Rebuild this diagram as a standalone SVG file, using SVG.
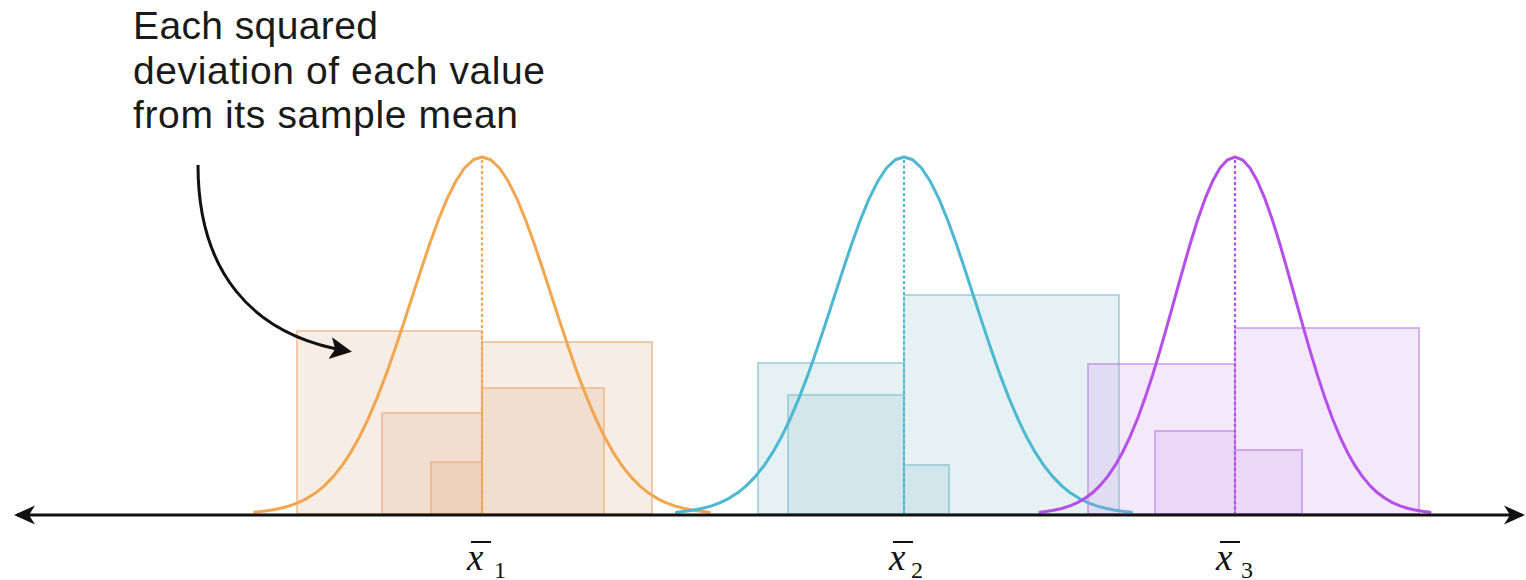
<svg xmlns="http://www.w3.org/2000/svg" width="1526" height="580" viewBox="0 0 1526 580">
<defs>
<style>
.lbl{font-family:"Liberation Sans",Arial,sans-serif;font-size:39px;fill:#1a1a1a}
.mx{font-family:"Liberation Serif","Times New Roman",serif;font-style:italic;font-size:37px;fill:#111}
.sub{font-family:"Liberation Serif","Times New Roman",serif;font-size:24px;fill:#111}
.sqo{fill:rgb(222,165,118);fill-opacity:0.2;stroke:rgb(232,165,110);stroke-opacity:0.55;stroke-width:2}
.sqb{fill:rgb(150,195,210);fill-opacity:0.24;stroke:rgb(120,185,200);stroke-opacity:0.55;stroke-width:2}
.sqp{fill:rgb(200,145,235);fill-opacity:0.2;stroke:rgb(190,130,232);stroke-opacity:0.6;stroke-width:2}
.curve{fill:none;stroke-width:3;stroke-linejoin:round;stroke-linecap:round}
.dot{stroke-width:2.2;stroke-dasharray:3 2.5}
</style>
<path id="g70" d="M-227.5,512.2 L-218.75,511.3 -210,510 -201.25,508.3 -192.5,505.9 -183.75,502.6 -175,498.3 -166.25,492.8 -157.5,485.6 -148.75,476.6 -140,465.7 -131.25,452.4 -122.5,436.8 -113.75,418.7 -105,398.1 -96.25,375.4 -87.5,350.6 -78.75,324.4 -70,297.5 -61.25,270.6 -52.5,244.5 -43.75,220.3 -35,198.9 -26.25,181.3 -17.5,168 -8.75,159.8 0,157 8.75,159.8 17.5,168 26.25,181.3 35,198.9 43.75,220.3 52.5,244.5 61.25,270.6 70,297.5 78.75,324.4 87.5,350.6 96.25,375.4 105,398.1 113.75,418.7 122.5,436.8 131.25,452.4 140,465.7 148.75,476.6 157.5,485.6 166.25,492.8 175,498.3 183.75,502.6 192.5,505.9 201.25,508.3 210,510 218.75,511.3 227.5,512.2"/>
<path id="g60" d="M-195,512.2 L-187.5,511.3 -180,510 -172.5,508.3 -165,505.9 -157.5,502.6 -150,498.3 -142.5,492.8 -135,485.6 -127.5,476.6 -120,465.7 -112.5,452.4 -105,436.8 -97.5,418.7 -90,398.1 -82.5,375.4 -75,350.6 -67.5,324.4 -60,297.5 -52.5,270.6 -45,244.5 -37.5,220.3 -30,198.9 -22.5,181.3 -15,168 -7.5,159.8 0,157 7.5,159.8 15,168 22.5,181.3 30,198.9 37.5,220.3 45,244.5 52.5,270.6 60,297.5 67.5,324.4 75,350.6 82.5,375.4 90,398.1 97.5,418.7 105,436.8 112.5,452.4 120,465.7 127.5,476.6 135,485.6 142.5,492.8 150,498.3 157.5,502.6 165,505.9 172.5,508.3 180,510 187.5,511.3 195,512.2"/>
<marker id="ah" viewBox="0 0 22 22" refX="18" refY="11" markerWidth="22" markerHeight="22" markerUnits="userSpaceOnUse" orient="auto-start-reverse">
<path d="M0,1.5 L21,11 L0,20.5 L6,11 Z" fill="#111"/>
</marker>
<marker id="ca" viewBox="0 0 24 24" refX="18" refY="12" markerWidth="24" markerHeight="24" markerUnits="userSpaceOnUse" orient="auto">
<path d="M0,1 L22,12 L0,23 L5,12 Z" fill="#111"/>
</marker>
</defs>
<rect width="1526" height="580" fill="#fff"/>

<g id="sample1">
<rect class="sqo" x="297" y="331" width="185" height="183"/>
<rect class="sqo" x="482" y="342" width="170" height="172"/>
<rect class="sqo" x="382" y="413" width="100" height="101"/>
<rect class="sqo" x="482" y="388" width="122" height="126"/>
<rect class="sqo" x="431" y="462" width="51" height="52"/>
<use href="#g70" class="curve" stroke="#F2A650" transform="translate(482,0)"/>
<line class="dot" stroke="#F2A650" x1="482" y1="160" x2="482" y2="513"/>
</g>

<g id="sample2">
<rect class="sqb" x="758" y="363" width="146" height="151"/>
<rect class="sqb" x="788" y="395" width="116" height="119"/>
<rect class="sqb" x="904" y="295" width="215" height="219"/>
<rect class="sqb" x="904" y="465" width="45" height="49"/>
<use href="#g70" class="curve" stroke="#4CB8D2" transform="translate(904,0)"/>
<line class="dot" stroke="#4CB8D2" x1="904" y1="160" x2="904" y2="513"/>
</g>

<g id="sample3">
<rect class="sqp" x="1088" y="364" width="147" height="150"/>
<rect class="sqp" x="1155" y="431" width="80" height="83"/>
<rect class="sqp" x="1235" y="328" width="184" height="186"/>
<rect class="sqp" x="1235" y="450" width="67" height="64"/>
<use href="#g60" class="curve" stroke="#B64EEA" transform="translate(1235,0)"/>
<line class="dot" stroke="#B64EEA" x1="1235" y1="160" x2="1235" y2="513"/>
</g>

<g id="connectors">
<line x1="17" y1="515" x2="1522" y2="515" stroke="#111" stroke-width="3" marker-start="url(#ah)" marker-end="url(#ah)"/>
<path d="M198,165 C198,270 250,335 348,351" fill="none" stroke="#111" stroke-width="3" marker-end="url(#ca)"/>
</g>

<g id="annotation">
<text class="lbl" x="133" y="39" textLength="245" lengthAdjust="spacing">Each squared</text>
<text class="lbl" x="133" y="84" textLength="412" lengthAdjust="spacing">deviation of each value</text>
<text class="lbl" x="133" y="128" textLength="385" lengthAdjust="spacing">from its sample mean</text>
</g>

<g id="mean-labels">
<text class="mx" x="467" y="570">x</text>
<line x1="471" y1="542" x2="491" y2="542" stroke="#111" stroke-width="2"/>
<text class="sub" x="494" y="578">1</text>
<text class="mx" x="889" y="570">x</text>
<line x1="893" y1="542" x2="913" y2="542" stroke="#111" stroke-width="2"/>
<text class="sub" x="911" y="578">2</text>
<text class="mx" x="1216" y="570">x</text>
<line x1="1220" y1="542" x2="1240" y2="542" stroke="#111" stroke-width="2"/>
<text class="sub" x="1241" y="578">3</text>
</g>
</svg>
